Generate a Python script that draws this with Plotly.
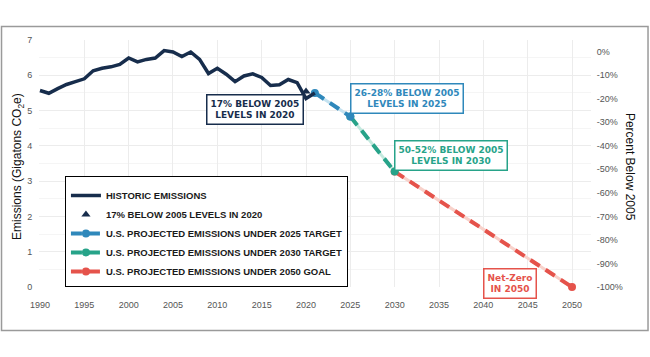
import plotly.graph_objects as go

# ---------------- data ----------------
hist_years = list(range(1990, 2022))
hist_values = [5.57, 5.49, 5.62, 5.74, 5.82, 5.90, 6.13, 6.20, 6.24, 6.31,
               6.49, 6.38, 6.45, 6.49, 6.70, 6.66, 6.53, 6.66, 6.45, 6.05,
               6.20, 6.03, 5.82, 5.98, 6.04, 5.94, 5.71, 5.73, 5.88, 5.79,
               5.34, 5.50]
target2020_year = [2020]
target2020_value = [5.54]
proj2025_years = [2021, 2025]
proj2025_values = [5.50, 4.83]
proj2030_years = [2025, 2030]
proj2030_values = [4.83, 3.27]
proj2050_years = [2030, 2050]
proj2050_values = [3.27, 0.0]
base2005 = 6.67
pct_ticks = [0, -10, -20, -30, -40, -50, -60, -70, -80, -90, -100]
x_ticks = list(range(1990, 2051, 5))

NAVY = "#172d4c"
BLUE = "#2f88bb"
TEAL = "#27a389"
RED = "#e5534b"
LBLUE = "#c4e2f0"
LTEAL = "#c3e9de"
LRED = "#f8d2cb"
FONT = "Liberation Sans, Arial, sans-serif"
BOXFONT = "DejaVu Sans, Verdana, sans-serif"

fig = go.Figure()

# draw order: red, teal, blue so later markers sit on top
for yrs, vals, dark, light, name, rank in [
    (proj2050_years, proj2050_values, RED, LRED, "U.S. PROJECTED EMISSIONS UNDER 2050 GOAL", 5),
    (proj2030_years, proj2030_values, TEAL, LTEAL, "U.S. PROJECTED EMISSIONS UNDER 2030 TARGET", 4),
    (proj2025_years, proj2025_values, BLUE, LBLUE, "U.S. PROJECTED EMISSIONS UNDER 2025 TARGET", 3),
]:
    fig.add_trace(go.Scatter(x=yrs, y=vals, mode="lines", showlegend=False,
                             line=dict(color=light, width=3), hoverinfo="skip",
                             cliponaxis=False))
    fig.add_trace(go.Scatter(x=yrs, y=vals, mode="lines+markers", name=name,
                             legendrank=rank, cliponaxis=False,
                             line=dict(color=dark, width=4, dash="11px,7px"),
                             marker=dict(color=dark, size=8)))

fig.add_trace(go.Scatter(x=hist_years, y=hist_values, mode="lines",
                         name="HISTORIC EMISSIONS", legendrank=1, cliponaxis=False,
                         line=dict(color=NAVY, width=3.5)))
fig.add_trace(go.Scatter(x=target2020_year, y=target2020_value, mode="markers",
                         name="17% BELOW 2005 LEVELS IN 2020", legendrank=2,
                         marker=dict(color=NAVY, size=8, symbol="triangle-up")))

# invisible trace for the right axis
fig.add_trace(go.Scatter(x=[1990], y=[0], yaxis="y2", mode="markers",
                         marker=dict(opacity=0), showlegend=False, hoverinfo="skip"))

def box(x, y, text, color):
    fig.add_annotation(x=x, y=y, xref="x", yref="y", text="<b>" + text + "</b>",
                       showarrow=False, font=dict(family=BOXFONT, size=9, color=color),
                       bordercolor=color, borderwidth=1.5, borderpad=3,
                       bgcolor="white", align="center",
                       xanchor="center", yanchor="middle")

box(2014.25, 5.02, "17% BELOW 2005<br>LEVELS IN 2020", NAVY)
box(2031.4, 5.33, "26-28% BELOW 2005<br>LEVELS IN 2025", BLUE)
box(2036.35, 3.73, "50-52% BELOW 2005<br>LEVELS IN 2030", TEAL)
box(2043.0, 0.09, "Net-Zero<br>IN 2050", RED)

# axis titles
fig.add_annotation(x=-0.038, y=0.486, xref="paper", yref="paper",
                   xanchor="center", yanchor="middle",
                   text="Emissions (Gigatons CO<sub>2</sub>e)", textangle=-90,
                   showarrow=False, font=dict(family=FONT, size=12, color="#111"))
fig.add_annotation(x=1.0707, y=0.486, xref="paper", yref="paper",
                   xanchor="center", yanchor="middle",
                   text="Percent Below 2005", textangle=90,
                   showarrow=False, font=dict(family=FONT, size=12, color="#111"))

# outer frame
fig.add_shape(type="rect", xref="paper", yref="paper",
              x0=-0.0679, x1=1.1033, y0=-0.176, y1=1.0547,
              line=dict(color="#9a9a9a", width=1.5), fillcolor="rgba(0,0,0,0)",
              layer="below")

fig.update_layout(
    width=650, height=357,
    margin=dict(l=39, r=59, t=40, b=70, autoexpand=False),
    paper_bgcolor="white", plot_bgcolor="white",
    font=dict(family=FONT, size=9, color="#555"),
    xaxis=dict(range=[1989.89, 2052.14], tickvals=x_ticks, showgrid=True,
               gridcolor="#ececec", gridwidth=1, zeroline=False, showline=False,
               ticks="outside", ticklen=9, tickcolor="rgba(0,0,0,0)",
               automargin=False, tickfont=dict(size=9, color="#555")),
    yaxis=dict(range=[0, 7], dtick=1, showgrid=True, gridcolor="#ececec",
               zeroline=False, showline=False, automargin=False,
               ticks="outside", ticklen=4, tickcolor="rgba(0,0,0,0)",
               minor=dict(dtick=0.5, showgrid=True, gridcolor="#f5f5f5"),
               tickfont=dict(size=9, color="#555")),
    yaxis2=dict(overlaying="y", side="right", automargin=False,
                range=[-100, 100 * 7 / base2005 - 100],
                tickvals=pct_ticks, ticktext=[f"{v}%" for v in pct_ticks],
                showgrid=False, zeroline=False, showline=False,
                ticks="outside", ticklen=3, tickcolor="rgba(0,0,0,0)",
                tickfont=dict(size=9, color="#555")),
    legend=dict(x=0.047, y=0.449, xanchor="left", yanchor="top",
                bordercolor="black", borderwidth=1, bgcolor="white",
                font=dict(family=FONT, size=9.5, color="#1a1a1a", weight="bold"),
                title=dict(text=" ", font=dict(size=3)),
                itemwidth=30, tracegroupgap=0),
    showlegend=True,
)

fig.write_html("out.html", config={"displayModeBar": False},
               post_script="document.body.style.margin='0';")
